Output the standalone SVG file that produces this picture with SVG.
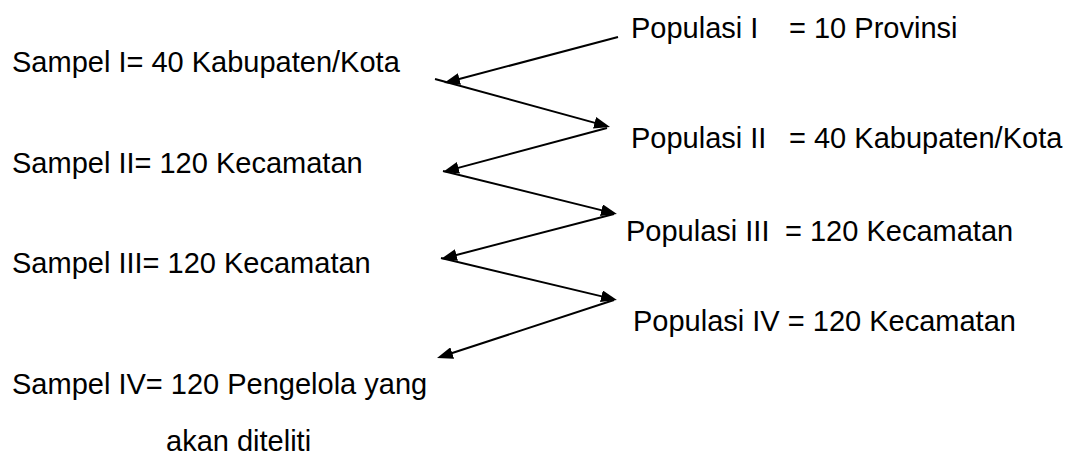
<svg xmlns="http://www.w3.org/2000/svg" width="1072" height="455" viewBox="0 0 1072 455">
<style>
text{font-family:"Liberation Sans",Arial,sans-serif;font-size:29px;fill:#000}
.c{fill:none;stroke:#000;stroke-width:2;marker-end:url(#ah)}
</style>
<defs>
<marker id="ah" viewBox="0 0 16 12" markerWidth="16" markerHeight="12" refX="8" refY="6" orient="auto" markerUnits="userSpaceOnUse">
<path d="M0,0 L16,6 L0,12 z" fill="#000"/>
</marker>
</defs>
<rect width="1072" height="455" fill="#fff"/>
<g id="pop1"><text x="631" y="38">Populasi I<tspan x="789">= 10 Provinsi</tspan></text></g>
<g id="pop2"><text x="631" y="148">Populasi II<tspan x="789">= 40 Kabupaten/Kota</tspan></text></g>
<g id="pop3"><text x="626" y="241">Populasi III<tspan x="785">= 120 Kecamatan</tspan></text></g>
<g id="pop4"><text x="633" y="331">Populasi IV = 120 Kecamatan</text></g>
<g id="samp1"><text x="12" y="72">Sampel I= 40 Kabupaten/Kota</text></g>
<g id="samp2"><text x="12" y="173">Sampel II= 120 Kecamatan</text></g>
<g id="samp3"><text x="12" y="273">Sampel III= 120 Kecamatan</text></g>
<g id="samp4"><text x="12" y="394">Sampel IV= 120 Pengelola yang</text><text x="166" y="451">akan diteliti</text></g>
<g id="connectors">
<path class="c" d="M618,37 L451.7,81"/>
<path class="c" d="M435,79 L602.3,124.9"/>
<path class="c" d="M607,128 L450.7,169.9"/>
<path class="c" d="M443,171 L609.2,212.1"/>
<path class="c" d="M614,214 L448.7,257"/>
<path class="c" d="M441,258 L609.2,298.1"/>
<path class="c" d="M614,300 L444.6,355.5"/>
</g>
</svg>
